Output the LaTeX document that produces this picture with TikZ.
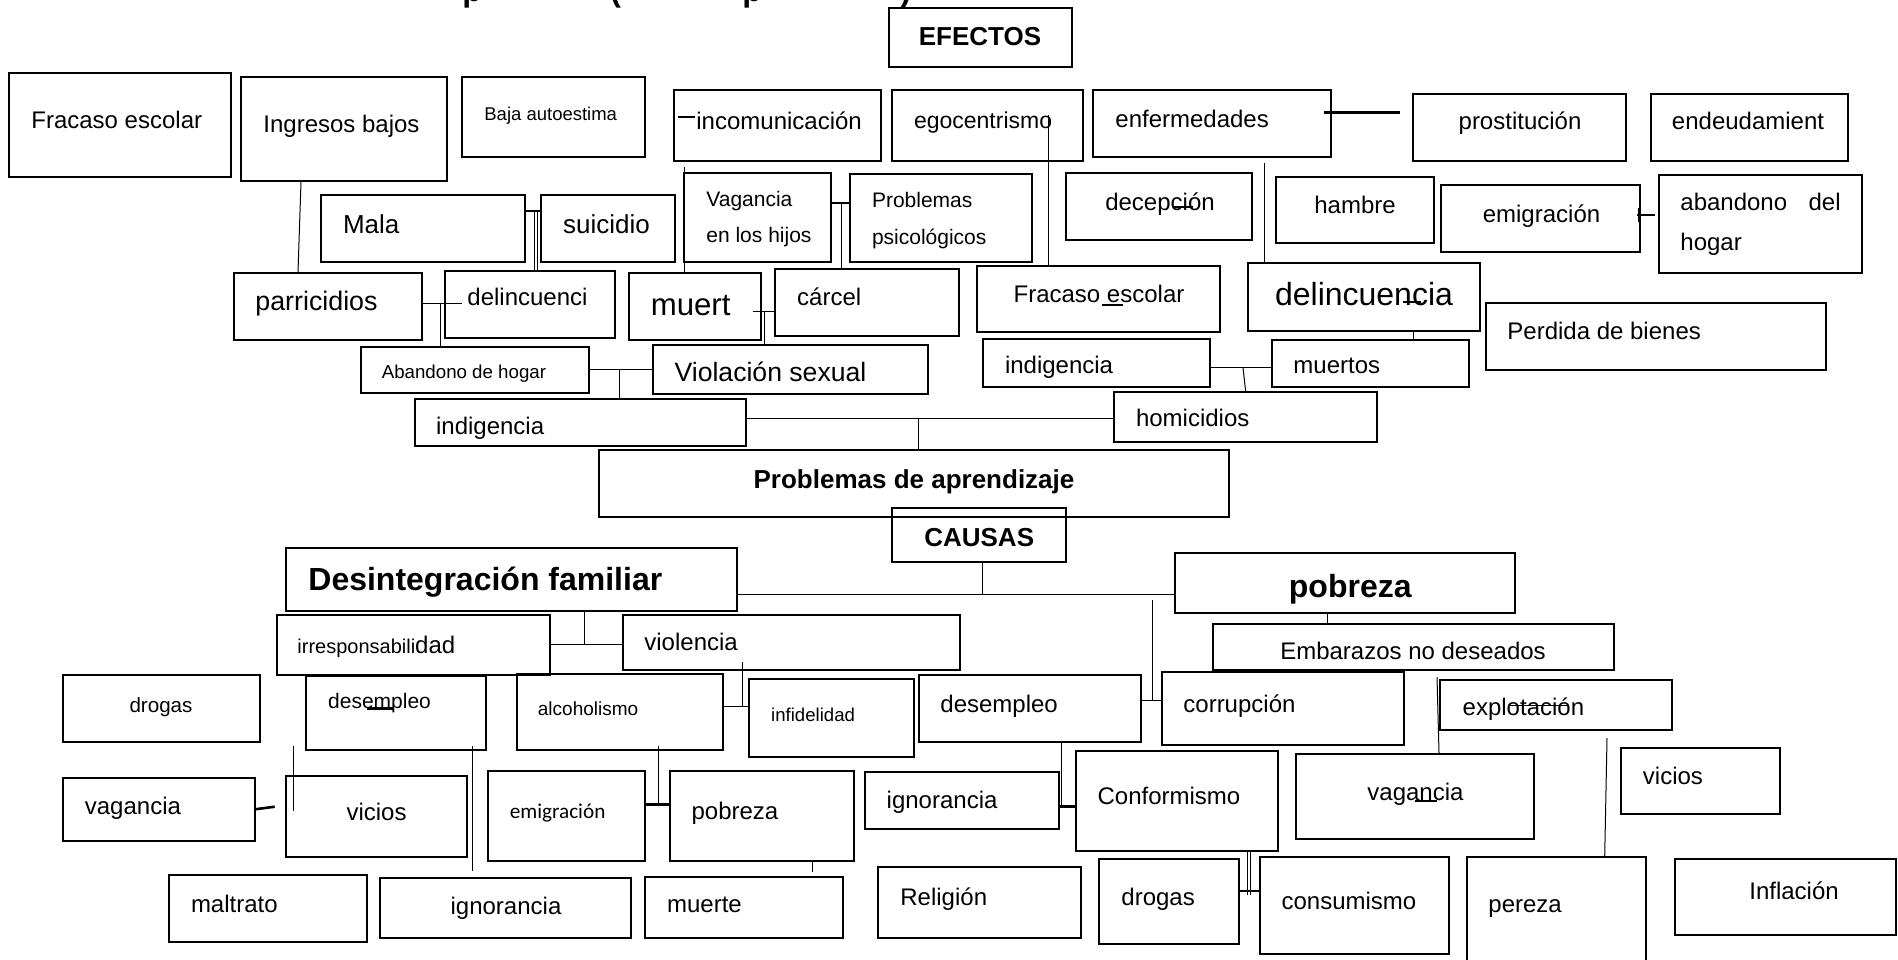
\documentclass[tikz,border=0pt]{standalone}
\usepackage{fontspec}
\setmainfont{Liberation Sans}
\newfontfamily\calib{Carlito}
\usetikzlibrary{fit}
\newcommand{\mybox}[5]{\node[box, fit={(#2,#3) (#4,#5)}] (#1) {};}
\begin{document}
\begin{tikzpicture}[x=0.5pt,y=-0.5pt,
  box/.style={draw, line width=1pt, inner sep=0pt},
  lnk/.style={line width=0.5pt},
  tck/.style={line width=1.3pt},
  tl/.style={inner sep=0pt, anchor=base west, font=\fontsize{12}{14}\selectfont},
  tc/.style={inner sep=0pt, anchor=base, font=\fontsize{12}{14}\selectfont},
  fs/.style={font=\fontsize{#1}{#1}\selectfont},
  fsb/.style={font=\fontsize{#1}{#1}\selectfont\bfseries}]
\useasboundingbox (0,0) rectangle (1898,959);
\fill[white] (0,0) rectangle (1898,959);
\clip (0,0) rectangle (1898,959);

% title fragments (clipped at the top edge)
\node[tl,fsb=16] (ttl1) at (462,1) {p};
\node[tl,fsb=16] (ttl2) at (610,1) {(};
\node[tl,fsb=16] (ttl3) at (742,1) {p};
\node[tl,fsb=16] (ttl4) at (900,1) {)};

% boxes
\mybox{efectos}{889}{8}{1072}{67}
\mybox{fe1}{9}{73}{231}{177}
\mybox{ib}{241}{77}{447}{181}
\mybox{baja}{462}{77}{645}{157}
\mybox{inc}{674}{90}{881}{161}
\mybox{ego}{892}{90}{1083}{161}
\mybox{enf}{1093}{90}{1331}{157}
\mybox{prost}{1413}{94}{1626}{161}
\mybox{endeu}{1651}{94}{1848}{161}
\mybox{mala}{321}{195}{525}{262}
\mybox{suic}{541}{195}{675}{262}
\mybox{vag}{684}{173}{831}{262}
\mybox{prob}{850}{174}{1032}{262}
\mybox{dec}{1066}{173}{1252}{240}
\mybox{hambre}{1276}{177}{1434}{243}
\mybox{emiT}{1441}{185}{1640}{252}
\mybox{aband}{1659}{175}{1862}{273}
\mybox{parr}{234}{273}{422}{340}
\mybox{delc}{445}{271}{615}{338}
\mybox{muert}{629}{273}{761}{340}
\mybox{carcel}{775}{269}{959}{336}
\mybox{fe2}{977}{266}{1220}{332}
\mybox{delinc}{1248}{263}{1480}{331}
\mybox{perd}{1486}{303}{1826}{370}
\mybox{aban}{361}{347}{589}{393}
\mybox{viol}{653}{345}{928}{394}
\mybox{indR}{983}{339}{1210}{387}
\mybox{muertos}{1272}{340}{1469}{387}
\mybox{indL}{415}{399}{746}{446}
\mybox{hom}{1114}{392}{1377}{442}
\mybox{pda}{599}{450}{1229}{517}
\mybox{causas}{892}{508}{1066}{562}
\mybox{desint}{286}{548}{737}{611}
\mybox{pob}{1175}{553}{1515}{613}
\mybox{emb}{1213}{624}{1614}{670}
\mybox{irr}{277}{615}{550}{675}
\mybox{violencia}{623}{615}{960}{670}
\mybox{drogasL}{63}{675}{260}{742}
\mybox{desL}{306}{676}{486}{750}
\mybox{alc}{517}{674}{723}{750}
\mybox{inf}{749}{679}{914}{757}
\mybox{desM}{919}{675}{1141}{742}
\mybox{corr}{1162}{672}{1404}{745}
\mybox{expl}{1440}{680}{1672}{730}
\mybox{vagL}{63}{778}{255}{841}
\mybox{vicL}{286}{776}{467}{857}
\mybox{emiB}{488}{771}{645}{861}
\mybox{pobS}{670}{771}{854}{861}
\mybox{ignM}{865}{772}{1059}{829}
\mybox{conf}{1076}{751}{1278}{851}
\mybox{vagR}{1296}{754}{1534}{839}
\mybox{vicR}{1621}{748}{1780}{814}
\mybox{maltrato}{169}{875}{367}{942}
\mybox{ignL}{380}{878}{631}{938}
\mybox{muerte}{645}{877}{843}{938}
\mybox{relig}{878}{867}{1081}{938}
\mybox{drogasR}{1099}{859}{1239}{944}
\mybox{cons}{1260}{857}{1449}{954}
\mybox{pereza}{1467}{857}{1646}{975}
\mybox{infl}{1675}{859}{1896}{935}

% texts
\node[tc,fsb=13] (efectost) at (980,45) {EFECTOS};
\node[tl] (fe1t) at (31,128) {Fracaso escolar};
\node[tl] (ibt) at (263,132) {Ingresos bajos};
\node[tl,fs=9.25] (bajat) at (484,120) {Baja autoestima};
\node[tl] (inct) at (696,129) {incomunicación};
\node[tl,fs=11.5] (egot) at (913.6,128.6) {egocentrismo};
\node[tl] (enft) at (1115,127) {enfermedades};
\node[tc] (prostt) at (1520,129.7) {prostitución};
\node[tc] (endeut) at (1748,129) {endeudamient};
\node[tl,fs=13] (malat) at (342.6,233) {Mala};
\node[tl,fs=13] (suict) at (562.7,233) {suicidio};
\node[tl,fs=10.5] (vagt1) at (706,206) {Vagancia};
\node[tl,fs=10.5] (vagt2) at (706,242) {en los hijos};
\node[tl,fs=10.5] (probt1) at (871.6,207) {Problemas};
\node[tl,fs=10.5] (probt2) at (871.6,244) {psicológicos};
\node[tc] (dect) at (1160,210) {decepción};
\node[tc] (hambret) at (1355,213) {hambre};
\node[tc] (emiTt) at (1541.5,222) {emigración};
\node[tl] (abandt1) at (1680,210.7) {abandono};
\node[tl,anchor=base east] (abandt2) at (1841,210.7) {del};
\node[tl] (abandt3) at (1680,250.7) {hogar};
\node[tl,fs=13.4] (parrt) at (255,310) {parricidios};
\node[tl] (delct) at (467,305.7) {delincuenci};
\node[tl,fs=15.6] (muertt) at (650.4,315) {muert};
\node[tl] (carcelt) at (796.8,305.7) {cárcel};
\node[tc] (fe2t) at (1099,302.3) {Fracaso escolar};
\node[tc,fs=16] (delinct) at (1364,305.5) {delincuencia};
\node[tl] (perdt) at (1507,339.7) {Perdida de bienes};
\node[tl,fs=9.35] (abant) at (381.4,378) {Abandono de hogar};
\node[tl,fs=13.3] (violt) at (674.2,381.8) {Violación sexual};
\node[tl] (indRt) at (1004.6,373) {indigencia};
\node[tl] (muertost) at (1293,373) {muertos};
\node[tl] (indLt) at (435.7,434) {indigencia};
\node[tl] (homt) at (1135.6,426.3) {homicidios};
\node[tc,fsb=13] (pdat) at (914,488) {Problemas de aprendizaje};
\node[tc,fsb=13] (causast) at (979.2,546) {CAUSAS};
\node[tl,fsb=16] (desintt) at (308,590.5) {Desintegración familiar};
\node[tl,fsb=16] (pobt) at (1288.5,597) {pobreza};
\node[tc] (embt) at (1413,659) {Embarazos no deseados};
\node[tl,fs=10] (irrt) at (297,653) {irresponsabili{\fontsize{12}{14}\selectfont dad}};
\node[tl] (violenciat) at (644,650.7) {violencia};
\node[tc,fs=10.3] (drogasLt) at (161,712) {drogas};
\node[tl,fs=10.5] (desLt) at (327.8,708) {desempleo};
\node[tl,fs=9.5] (alct) at (537.5,715.5) {alcoholismo};
\node[tl,fs=9.3] (inft) at (770.8,721) {infidelidad};
\node[tl] (desMt) at (940,712.3) {desempleo};
\node[tl] (corrt) at (1183,712.3) {corrupción};
\node[tl] (explt) at (1462.3,715) {explotación};
\node[tl] (vagLt) at (84.5,814.7) {vagancia};
\node[tc] (vicLt) at (376.5,820.7) {vicios};
\node[tl,font=\calib\fontsize{10.6}{12}\selectfont] (emiBt) at (509.4,818.3) {emigración};
\node[tl] (pobSt) at (691.2,819.7) {pobreza};
\node[tl] (ignMt) at (886.3,808.3) {ignorancia};
\node[tl] (conft) at (1097.2,804) {Conformismo};
\node[tl] (vagRt) at (1367,800.7) {vagancia};
\node[tl] (vicRt) at (1642.5,784) {vicios};
\node[tl] (maltratot) at (190.6,912.3) {maltrato};
\node[tc] (ignLt) at (506,914.7) {ignorancia};
\node[tl] (muertet) at (666.7,912.3) {muerte};
\node[tl] (religt) at (900,905.7) {Religión};
\node[tl] (drogasRt) at (1121,905.7) {drogas};
\node[tl] (const) at (1281.2,909) {consumismo};
\node[tl] (perezat) at (1488,912.3) {pereza};
\node[tc] (inflt) at (1794,899.7) {Inflación};

% junction / free-end coordinates
\coordinate (q1) at (534,211);
\coordinate (q2) at (537.5,211);
\coordinate (q3) at (462,303);
\coordinate (q4) at (440,303);
\coordinate (q5) at (619,369);
\coordinate (q6) at (753,311);
\coordinate (q7) at (764,311);
\coordinate (q8) at (684,167);
\coordinate (q9) at (841.4,203);
\coordinate (q10) at (1048,115);
\coordinate (q11a) at (678,117);
\coordinate (q11b) at (695,117);
\coordinate (q12a) at (1102,305);
\coordinate (q12b) at (1122.5,305);
\coordinate (q13a) at (1173,206.5);
\coordinate (q13b) at (1193,206.5);
\coordinate (q14a) at (1324,112.7);
\coordinate (q14b) at (1400.4,112.7);
\coordinate (q15) at (1264,163);
\coordinate (q16a) at (1403,302);
\coordinate (q16b) at (1421,302);
\coordinate (q17a) at (1636.5,215);
\coordinate (q17b) at (1654.8,215);
\coordinate (q17c) at (1638.5,208);
\coordinate (q17d) at (1638.5,222);
\coordinate (q18) at (1243,367.7);
\coordinate (q19) at (918,418.3);
\coordinate (q20) at (982,594);
\coordinate (q21) at (584,644.3);
\coordinate (q22) at (742,662);
\coordinate (q23) at (742,706);
\coordinate (q24) at (1152.5,600);
\coordinate (q25) at (1152.5,700.7);
\coordinate (q26) at (1437,677);
\coordinate (q27) at (1607,738);
\coordinate (q28) at (1061.7,806.7);
\coordinate (q29a) at (1247.5,895);
\coordinate (q29b) at (1250.5,895);
\coordinate (q29c) at (1250,891);
\coordinate (q30) at (658.6,746);
\coordinate (q31) at (658.6,804.3);
\coordinate (q32) at (812.8,871.7);
\coordinate (q33a) at (274.7,806.7);
\coordinate (q33b) at (255,809.3);
\coordinate (q34a) at (293,746);
\coordinate (q34b) at (293,810.7);
\coordinate (q35a) at (472.3,746);
\coordinate (q35b) at (472.3,871);
\coordinate (q36a) at (367,708.5);
\coordinate (q36b) at (394,708.5);
\coordinate (q37a) at (1509,705);
\coordinate (q37b) at (1567,705);
\coordinate (q38a) at (1414.6,801);
\coordinate (q38b) at (1437,801);

% connectors
\draw[lnk] (ib.south -| 301,0) -- (parr.north -| 298,0);
\draw[tck] (mala.east |- q1) -- (suic.west |- q1);
\draw[lnk] (q1) -- (delc.north -| q1);
\draw[lnk] (q2) -- (delc.north -| q2);
\draw[lnk] (parr.east |- q3) -- (q3);
\draw[lnk] (q4) -- (aban.north -| q4);
\draw[lnk] (aban.east |- q5) -- (viol.west |- q5);
\draw[lnk] (q5) -- (indL.north -| q5);
\draw[lnk] (q6) -- (carcel.west |- q6);
\draw[lnk] (q7) -- (viol.north -| q7);
\draw[lnk] (q8) -- (muert.north -| q8);
\draw[tck] (vag.east |- q9) -- (prob.west |- q9);
\draw[lnk] (q9) -- (carcel.north -| q9);
\draw[lnk] (q10) -- (fe2.north -| q10);
\draw[tck] (q11a) -- (q11b);
\draw[line width=0.7pt] (q12a) -- (q12b);
\draw[line width=1pt] (q13a) -- (q13b);
\draw[tck] (q14a) -- (q14b);
\draw[lnk] (q15) -- (delinc.north -| q15);
\draw[lnk] (delinc.south -| 1413,0) -- (muertos.north -| 1413,0);
\draw[line width=0.8pt] (q16a) -- (q16b);
\draw[tck] (q17a) -- (q17b);
\draw[line width=0.9pt] (q17c) -- (q17d);
\draw[lnk] (indR.east |- q18) -- (muertos.west |- q18);
\draw[lnk] (q18) -- (hom.north -| 1245.6,0);
\draw[lnk] (indL.east |- q19) -- (hom.west |- q19);
\draw[lnk] (q19) -- (pda.north -| q19);
\draw[lnk] (causas.south -| q20) -- (q20);
\draw[lnk] (desint.east |- q20) -- (pob.west |- q20);
\draw[lnk] (pob.south -| 1327,0) -- (emb.north -| 1327,0);
\draw[lnk] (desint.south -| q21) -- (q21);
\draw[lnk] (irr.east |- q21) -- (violencia.west |- q21);
\draw[lnk] (q22) -- (q23);
\draw[lnk] (alc.east |- q23) -- (inf.west |- q23);
\draw[lnk] (q24) -- (q25);
\draw[lnk] (desM.east |- q25) -- (corr.west |- q25);
\draw[lnk] (q26) -- (vagR.north -| 1439,0);
\draw[lnk] (q27) -- (pereza.north -| 1604.7,0);
\draw[lnk] (desM.south -| q28) -- (q28);
\draw[tck] (ignM.east |- q28) -- (conf.west |- q28);
\draw[lnk] (conf.south -| q29a) -- (q29a);
\draw[lnk] (conf.south -| q29b) -- (q29b);
\draw[tck] (drogasR.east |- q29c) -- (cons.west |- q29c);
\draw[lnk] (q30) -- (q31);
\draw[tck] (emiB.east |- q31) -- (pobS.west |- q31);
\draw[lnk] (pobS.south -| q32) -- (q32);
\draw[tck] (q33b) -- (q33a);
\draw[lnk] (q34a) -- (q34b);
\draw[lnk] (q35a) -- (q35b);
\draw[tck] (q36a) -- (q36b);
\draw[lnk] (q37a) -- (q37b);
\draw[tck] (q38a) -- (q38b);
\end{tikzpicture}
\end{document}
